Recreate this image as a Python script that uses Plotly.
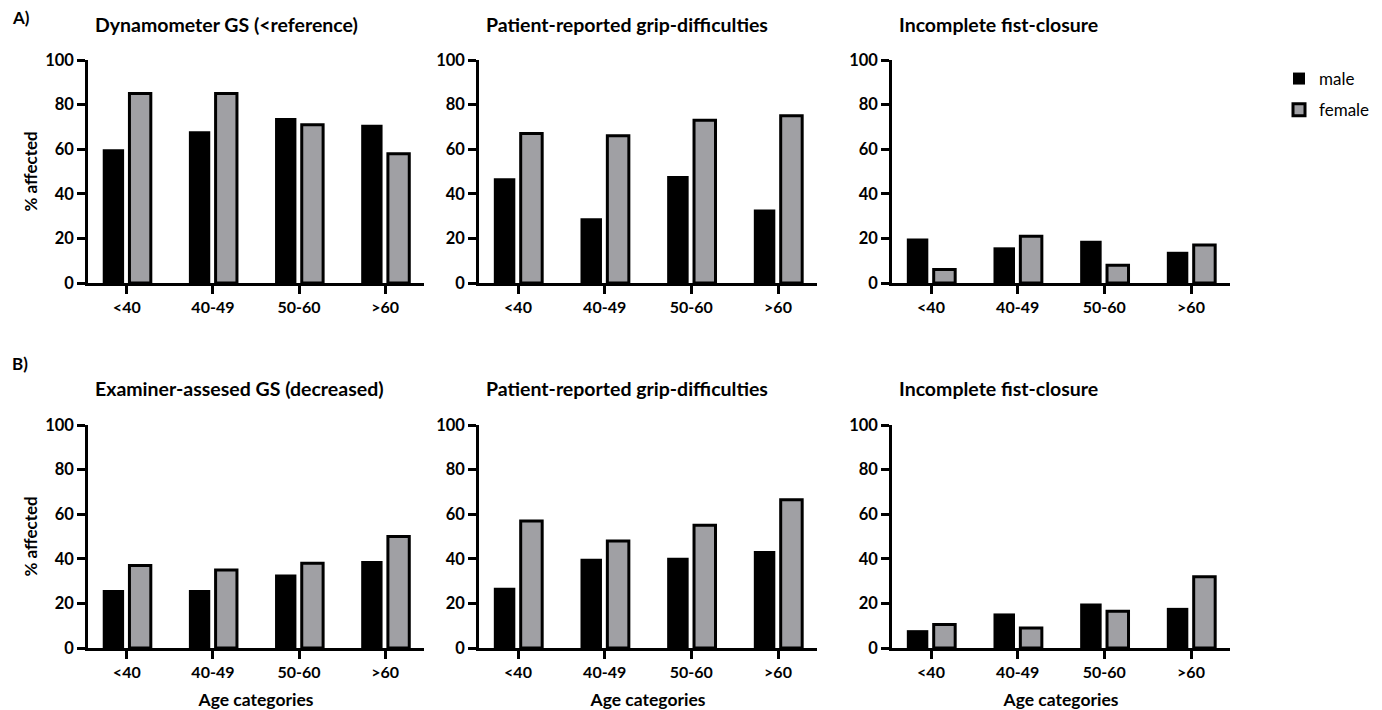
import plotly.graph_objects as go

categories = ["<40", "40-49", "50-60", ">60"]

titles = [
    "Dynamometer GS (<reference)",
    "Patient-reported grip-difficulties",
    "Incomplete fist-closure",
    "Examiner-assesed GS (decreased)",
    "Patient-reported grip-difficulties",
    "Incomplete fist-closure",
]

# % affected, panels A1, A2, A3, B1, B2, B3
male_a_dyn = [60, 68, 74, 71]
female_a_dyn = [85, 85, 71, 58]
male_a_grip = [47, 29, 48, 33]
female_a_grip = [67, 66, 73, 75]
male_a_fist = [20, 16, 19, 14]
female_a_fist = [6, 21, 8, 17]
male_b_exam = [26, 26, 33, 39]
female_b_exam = [37, 35, 38, 50]
male_b_grip = [27, 40, 40.5, 43.5]
female_b_grip = [57, 48, 55, 66.5]
male_b_fist = [8, 15.5, 20, 18]
female_b_fist = [10.5, 9, 16.5, 32]

male_series = [male_a_dyn, male_a_grip, male_a_fist, male_b_exam, male_b_grip, male_b_fist]
female_series = [female_a_dyn, female_a_grip, female_a_fist, female_b_exam, female_b_grip, female_b_fist]

y_ticks = [0, 20, 40, 60, 80, 100]

W, H = 1382, 710
FONT = "Lato"
MALE_COLOR = "#000000"
FEMALE_COLOR = "#a0a0a4"

# pixel layout of panels
x_px = [(88, 424), (479, 817), (892, 1230)]
y_px = [(60, 283), (425, 648)]

fig = go.Figure()
layout = dict(
    width=W, height=H,
    margin=dict(l=0, r=0, t=0, b=0, autoexpand=False),
    paper_bgcolor="white", plot_bgcolor="white",
    barmode="group", bargap=0.38, bargroupgap=0.2,
    font=dict(family=FONT, color="black"),
    showlegend=True,
    legend=dict(x=1279 / W, y=1 - 61 / H, xanchor="left", yanchor="top",
                font=dict(family=FONT, size=17, color="black"),
                tracegroupgap=6, itemwidth=30, bgcolor="rgba(0,0,0,0)"),
)
annotations = []

for i in range(6):
    r, c = divmod(i, 3)
    idx = i + 1
    xa = "x" if idx == 1 else f"x{idx}"
    ya = "y" if idx == 1 else f"y{idx}"
    fig.add_trace(go.Bar(
        x=categories, y=male_series[i], name="male",
        marker=dict(color=MALE_COLOR, line=dict(color="black", width=0)),
        xaxis=xa, yaxis=ya, showlegend=(i == 0), legendgroup="male",
    ))
    fig.add_trace(go.Bar(
        x=categories, y=female_series[i], name="female",
        marker=dict(color=FEMALE_COLOR, line=dict(color="black", width=3)),
        xaxis=xa, yaxis=ya, showlegend=(i == 0), legendgroup="female",
    ))
    x0, x1 = x_px[c]
    y0, y1 = y_px[r]
    layout["xaxis" if idx == 1 else f"xaxis{idx}"] = dict(
        domain=[x0 / W, x1 / W], anchor=ya, range=[-0.45, 3.45],
        automargin=False,
        showline=True, linecolor="black", linewidth=2.5,
        ticks="outside", ticklen=8, tickwidth=2.5, tickcolor="black",
        showgrid=False, zeroline=False, fixedrange=True,
        tickfont=dict(family=FONT, size=16, color="black", weight="bold"),
        title=dict(text="Age categories" if r == 1 else "",
                   font=dict(family=FONT, size=17.5, color="black", weight="bold")),
    )
    layout["yaxis" if idx == 1 else f"yaxis{idx}"] = dict(
        domain=[1 - y1 / H, 1 - y0 / H], anchor=xa, range=[0, 100],
        automargin=False,
        tickvals=y_ticks, showline=True, linecolor="black", linewidth=2.5,
        ticks="outside", ticklen=8, tickwidth=2.5, tickcolor="black",
        showgrid=False, zeroline=False, fixedrange=True,
        tickfont=dict(family=FONT, size=16.5, color="black", weight="bold"),
    )
    annotations.append(dict(
        text=f"<b>{titles[i]}</b>", xref="paper", yref="paper",
        x=(x0 + 5) / W, y=1 - (25 if r == 0 else 388) / H,
        xanchor="left", yanchor="middle", showarrow=False,
        font=dict(family=FONT, size=19.5, color="black"),
    ))
    if c == 0:
        annotations.append(dict(
            text="<b>% affected</b>", xref="paper", yref="paper",
            x=30 / W, y=1 - ((y0 + y1) / 2) / H, textangle=-90,
            xanchor="center", yanchor="middle", showarrow=False,
            font=dict(family=FONT, size=17, color="black"),
        ))

annotations.append(dict(text="<b>A)</b>", xref="paper", yref="paper", x=10 / W, y=1 - 18 / H,
                        xanchor="left", yanchor="middle", showarrow=False,
                        font=dict(family=FONT, size=17, color="black")))
annotations.append(dict(text="<b>B)</b>", xref="paper", yref="paper", x=10 / W, y=1 - 363 / H,
                        xanchor="left", yanchor="middle", showarrow=False,
                        font=dict(family=FONT, size=17, color="black")))
layout["annotations"] = annotations
fig.update_layout(**layout)
fig.write_html(
    "out.html",
    config={"displayModeBar": False},
    post_script="document.body.style.margin='0';document.body.style.overflow='hidden';",
)
